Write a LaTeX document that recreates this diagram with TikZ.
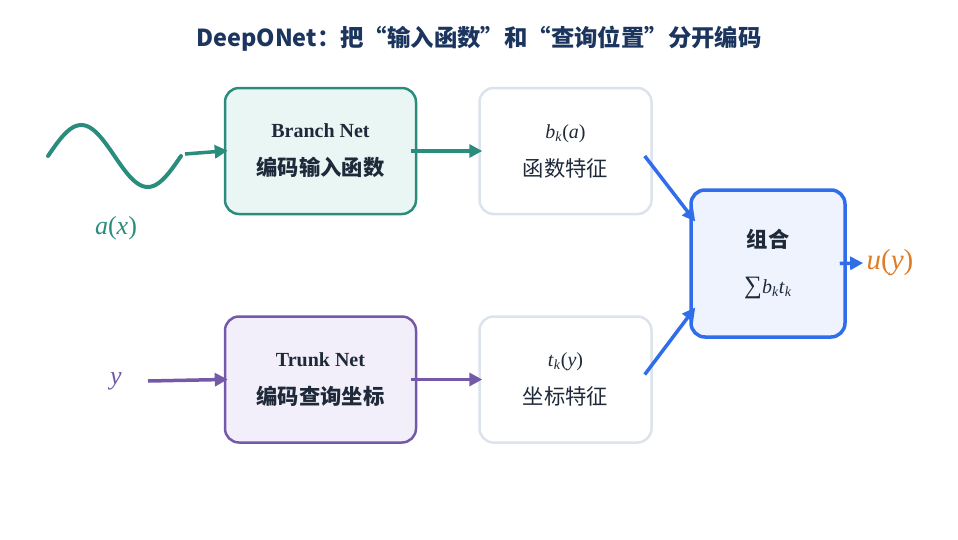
\documentclass[tikz,border=0pt]{standalone}
\usepackage{fontspec}
\setmainfont{Liberation Serif}
\newfontfamily\cjk{Noto Sans CJK SC}
\usetikzlibrary{positioning,arrows.meta}

\definecolor{titlec}{HTML}{1C355E}
\definecolor{textc}{HTML}{1E2A3A}
\definecolor{teal}{HTML}{2A8C7C}
\definecolor{tealfill}{HTML}{EAF6F4}
\definecolor{purp}{HTML}{7459A8}
\definecolor{purpfill}{HTML}{F2EFFA}
\definecolor{featline}{HTML}{DCE3EC}
\definecolor{blu}{HTML}{2F6DEB}
\definecolor{blufill}{HTML}{EEF3FE}
\definecolor{orng}{HTML}{E07C26}

\newcommand{\vi}[1]{\textit{#1}}
\newcommand{\sk}{\textsubscript{\vi{k}}}
\newcommand{\zh}{\cjk\fontsize{21.3}{38}\selectfont}

\begin{document}
\begin{tikzpicture}[x=1pt, y=-1pt, node distance=61pt,
    box/.style={draw, rounded corners=14pt, line width=2.5pt, align=center,
        inner sep=0pt, minimum height=126pt, text=textc,
        font=\fontsize{20}{38}\selectfont},
    netbox/.style={box, minimum width=191pt},
    featbox/.style={box, draw=featline, fill=white, minimum width=172pt},
    flow/.style={line width=3.5pt, shorten >=-4pt, -{Triangle[length=13pt,width=13pt]}},
    lbl/.style={font=\fontsize{26}{30}\selectfont}]
    \useasboundingbox (0,0) rectangle (958,539);

    % Title
    \node (title) at (479,39) [text=titlec, font=\cjk\bfseries\fontsize{23.4}{28}\selectfont]
        {DeepONet：把“输入函数”和“查询位置”分开编码};

    % Nets and features
    \node (branch) at (320.5,151) [netbox, draw=teal, fill=tealfill]
        {\bfseries Branch Net\\ {\zh\bfseries 编码输入函数}};
    \node (bfeat) [featbox, right=of branch]
        {\vi{b}\sk(\vi{a})\\ {\zh 函数特征}};
    \node (trunk) [netbox, draw=purp, fill=purpfill, below=100pt of branch]
        {\bfseries Trunk Net\\ {\zh\bfseries 编码查询坐标}};
    \node (tfeat) [featbox, right=of trunk]
        {\vi{t}\sk(\vi{y})\\ {\zh 坐标特征}};
    \node (comb) at (768,263.5) [box, draw=blu, fill=blufill, line width=3.5pt,
        minimum width=154pt, minimum height=147pt, font=\fontsize{20}{46}\selectfont]
        {{\zh\bfseries 组合}\\ {\fontsize{25}{30}\selectfont ∑}\vi{b}\sk\vi{t}\sk};

    % Inputs and output
    \draw[teal, line width=4pt, line cap=round, smooth, samples=60, domain=48:181]
        plot ({\x},{156-31*sin(2.70677*(\x-48))});
    \coordinate (wend) at (185,154);
    \node (ax) at (116,228) [lbl, text=teal] {\vi{a}(\vi{x})};
    \node (ylab) at (116,381) [lbl, text=purp] {\vi{y}};
    \coordinate (yout) at (148,381);
    \node (u) at (890,263) [text=orng, font=\fontsize{29}{32}\selectfont] {\vi{u}(\vi{y})};

    % Connectors
    \draw[flow, teal] (wend) -- (branch.west);
    \draw[flow, teal] ([xshift=-6pt]branch.east) -- (bfeat.west);
    \draw[flow, purp] (yout) -- (trunk.west);
    \draw[flow, purp] ([xshift=-6pt]trunk.east) -- (tfeat.west);
    \draw[flow, blu, shorten >=0pt] ([xshift=-8pt,yshift=-5pt]bfeat.east) -- ([xshift=6pt,yshift=42pt]comb.west);
    \draw[flow, blu, shorten >=0pt] ([xshift=-8pt,yshift=5pt]tfeat.east) -- ([xshift=6pt,yshift=-44pt]comb.west);
    \draw[flow, blu, shorten >=0pt] ([xshift=-7pt]comb.east) -- (u.west);
\end{tikzpicture}
\end{document}
